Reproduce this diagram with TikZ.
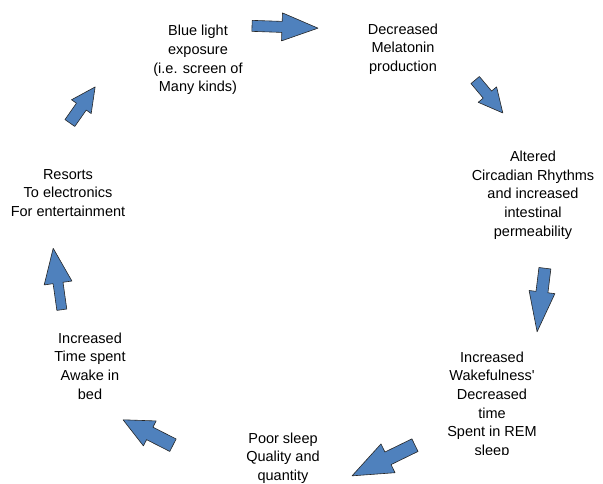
\documentclass[tikz,border=0pt]{standalone}
\usepackage{fontspec}
\setmainfont{Liberation Sans}
\tikzset{
  lbl/.style={align=center, inner sep=0pt, font=\fontsize{14.5}{18.7}\selectfont},
  barr/.style={draw=black!85, line width=0.6pt, fill=arrowblue, line join=round}
}
\definecolor{arrowblue}{HTML}{4F81BD}
% #1 centre, #2 angle, #3 length, #4 head length, #5 shaft half width, #6 head half width
\newcommand{\blockarrow}[6]{%
  \begin{scope}[shift={(#1)}, rotate=#2]
    \draw[barr] ({-#3/2},{-#5}) -- ({#3/2-#4},{-#5}) -- ({#3/2-#4},{-#6}) -- ({#3/2},0)
      -- ({#3/2-#4},{#6}) -- ({#3/2-#4},{#5}) -- ({-#3/2},{#5}) -- cycle;
  \end{scope}}
\begin{document}
\begin{tikzpicture}[x=1pt, y=-1pt]
\useasboundingbox (0,0) rectangle (603,483);
\fill[white] (0,0) rectangle (603,483);

\node[lbl] (t1) at (198,60) {Blue light\\exposure\\(i.e. screen of\\Many kinds)};
\node[lbl] (t2) at (403,49) {Decreased\\Melatonin\\production};
\node[lbl] (t3) at (533,195) {Altered\\Circadian Rhythms\\and increased\\intestinal\\permeability};
\begin{scope}
  \clip (400,330) rectangle (600,454);
  \node[lbl] (t4) at (492,405) {Increased\\Wakefulness\textquotesingle\\Decreased\\time\\Spent in REM\\sleep};
\end{scope}
\node[lbl] (t5) at (283,458) {Poor sleep\\Quality and\\quantity};
\node[lbl] (t6) at (68,193) {Resorts\\To electronics\\For entertainment};
\node[lbl] (t7) at (90,366) {Increased\\Time spent\\Awake in\\bed};

\blockarrow{285,27}{-2}{66}{36}{5.5}{14}
\blockarrow{489,96.5}{-50}{43}{24}{5.5}{12}
\blockarrow{541,300}{-97}{64}{40}{6}{13}
\blockarrow{383.5,460.5}{-154}{70}{40}{7}{16}
\blockarrow{148,432.5}{153}{56}{30}{7}{14}
\blockarrow{57.5,279}{98}{62}{35}{5}{14}
\blockarrow{82.5,105}{55}{44}{24}{6}{12}
\end{tikzpicture}
\end{document}
